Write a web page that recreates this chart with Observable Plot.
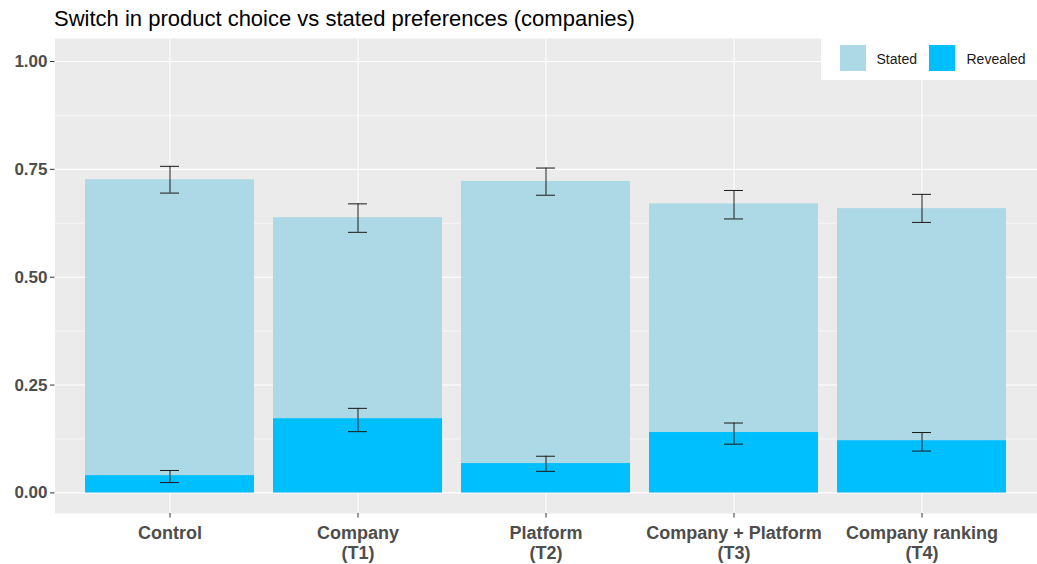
<!DOCTYPE html>
<html>
<head>
<meta charset="utf-8">
<script src="https://cdn.jsdelivr.net/npm/d3@7"></script>
<script src="https://cdn.jsdelivr.net/npm/@observablehq/plot@0.6"></script>
<style>
  html, body { margin: 0; padding: 0; background: #fff; }
  body { width: 1037px; height: 564px; overflow: hidden; font-family: "Liberation Sans", Arial, sans-serif; }
  #wrap { position: relative; width: 1037px; height: 564px; }
  #title { height: 38px; box-sizing: border-box; padding-top: 8px; padding-left: 54px; font-size: 22px; line-height: 22px; color: #000; white-space: nowrap; }
  #legend { position: absolute; left: 821px; top: 38px; width: 216px; height: 42px; background: #fff; }
  .key { position: absolute; top: 7px; width: 26px; height: 26px; }
  .lab { position: absolute; top: 0; height: 42px; line-height: 42px; font-size: 14px; color: #1a1a1a; }
</style>
</head>
<body>
<div id="wrap">
  <div id="title">Switch in product choice vs stated preferences (companies)</div>
  <div id="chart"></div>
  <div id="legend"></div>
</div>
<script>
const categories = ["Control", "Company\n(T1)", "Platform\n(T2)", "Company + Platform\n(T3)", "Company ranking\n(T4)"];
const stated = [0.726, 0.638, 0.722, 0.670, 0.659];
const statedLow = [0.695, 0.604, 0.690, 0.635, 0.627];
const statedHigh = [0.757, 0.670, 0.753, 0.701, 0.692];
const revealed = [0.040, 0.172, 0.068, 0.140, 0.121];
const revealedLow = [0.024, 0.142, 0.050, 0.113, 0.097];
const revealedHigh = [0.052, 0.196, 0.085, 0.162, 0.140];
const seriesNames = ["Stated", "Revealed"];
const seriesColors = ["#ADD8E6", "#00BFFF"];
const majorTicks = [0, 0.25, 0.5, 0.75, 1];
const minorTicks = [0.125, 0.375, 0.625, 0.875];

const rows = [];
categories.forEach((c, i) => {
  rows.push({cat: c, series: "Stated", value: stated[i], lo: statedLow[i], hi: statedHigh[i]});
  rows.push({cat: c, series: "Revealed", value: revealed[i], lo: revealedLow[i], hi: revealedHigh[i]});
});

const W = 1037, H = 526, mL = 54.5, mR = 0;
const step = (W - mL - mR) / (categories.length - 0.1 + 0.3);
const bw = step * 0.9;
const capInset = (bw - 20) / 2;

const chart = Plot.plot({
  width: W,
  height: H,
  marginLeft: mL,
  marginRight: mR,
  marginTop: 0,
  marginBottom: 51,
  style: {fontFamily: '"Liberation Sans", Arial, sans-serif', background: "transparent"},
  x: {domain: categories, paddingInner: 0.1, paddingOuter: 0.15, align: 0.5},
  y: {domain: [-0.0477, 1.0533]},
  color: {domain: seriesNames, range: seriesColors},
  marks: [
    Plot.frame({fill: "#EBEBEB", stroke: null}),
    Plot.gridY({ticks: minorTicks, stroke: "white", strokeOpacity: 1, strokeWidth: 0.55}),
    Plot.gridY({ticks: majorTicks, stroke: "white", strokeOpacity: 1, strokeWidth: 1.1}),
    Plot.gridX({stroke: "white", strokeOpacity: 1, strokeWidth: 1.1}),
    Plot.barY(rows.filter(d => d.series === "Stated"), {x: "cat", y1: 0, y2: "value", fill: "series"}),
    Plot.barY(rows.filter(d => d.series === "Revealed"), {x: "cat", y1: 0, y2: "value", fill: "series"}),
    Plot.ruleX(rows, {x: "cat", y1: "lo", y2: "hi", stroke: "#1a1a1a", strokeWidth: 1}),
    Plot.tickY(rows, {x: "cat", y: "lo", stroke: "#1a1a1a", strokeWidth: 1, insetLeft: capInset, insetRight: capInset}),
    Plot.tickY(rows, {x: "cat", y: "hi", stroke: "#1a1a1a", strokeWidth: 1, insetLeft: capInset, insetRight: capInset}),
    Plot.axisY({ticks: majorTicks, tickFormat: d3.format(".2f"), tickSize: 4.5, tickPadding: 3, stroke: "#333333", fill: "#4D4D4D", fontSize: 17, fontWeight: "bold", label: null}),
    Plot.axisX({tickSize: 4.5, tickPadding: 7, stroke: "#333333", fill: "#4D4D4D", fontSize: 18, fontWeight: "bold", lineHeight: 1.09, label: null})
  ]
});
document.getElementById("chart").appendChild(chart);

const legend = document.getElementById("legend");
const keyX = [19, 108];
const labX = [55.5, 145.5];
seriesNames.forEach((name, i) => {
  const k = document.createElement("div");
  k.className = "key";
  k.style.left = keyX[i] + "px";
  k.style.background = seriesColors[i];
  legend.appendChild(k);
  const t = document.createElement("div");
  t.className = "lab";
  t.style.left = labX[i] + "px";
  t.textContent = name;
  legend.appendChild(t);
});
</script>
</body>
</html>
